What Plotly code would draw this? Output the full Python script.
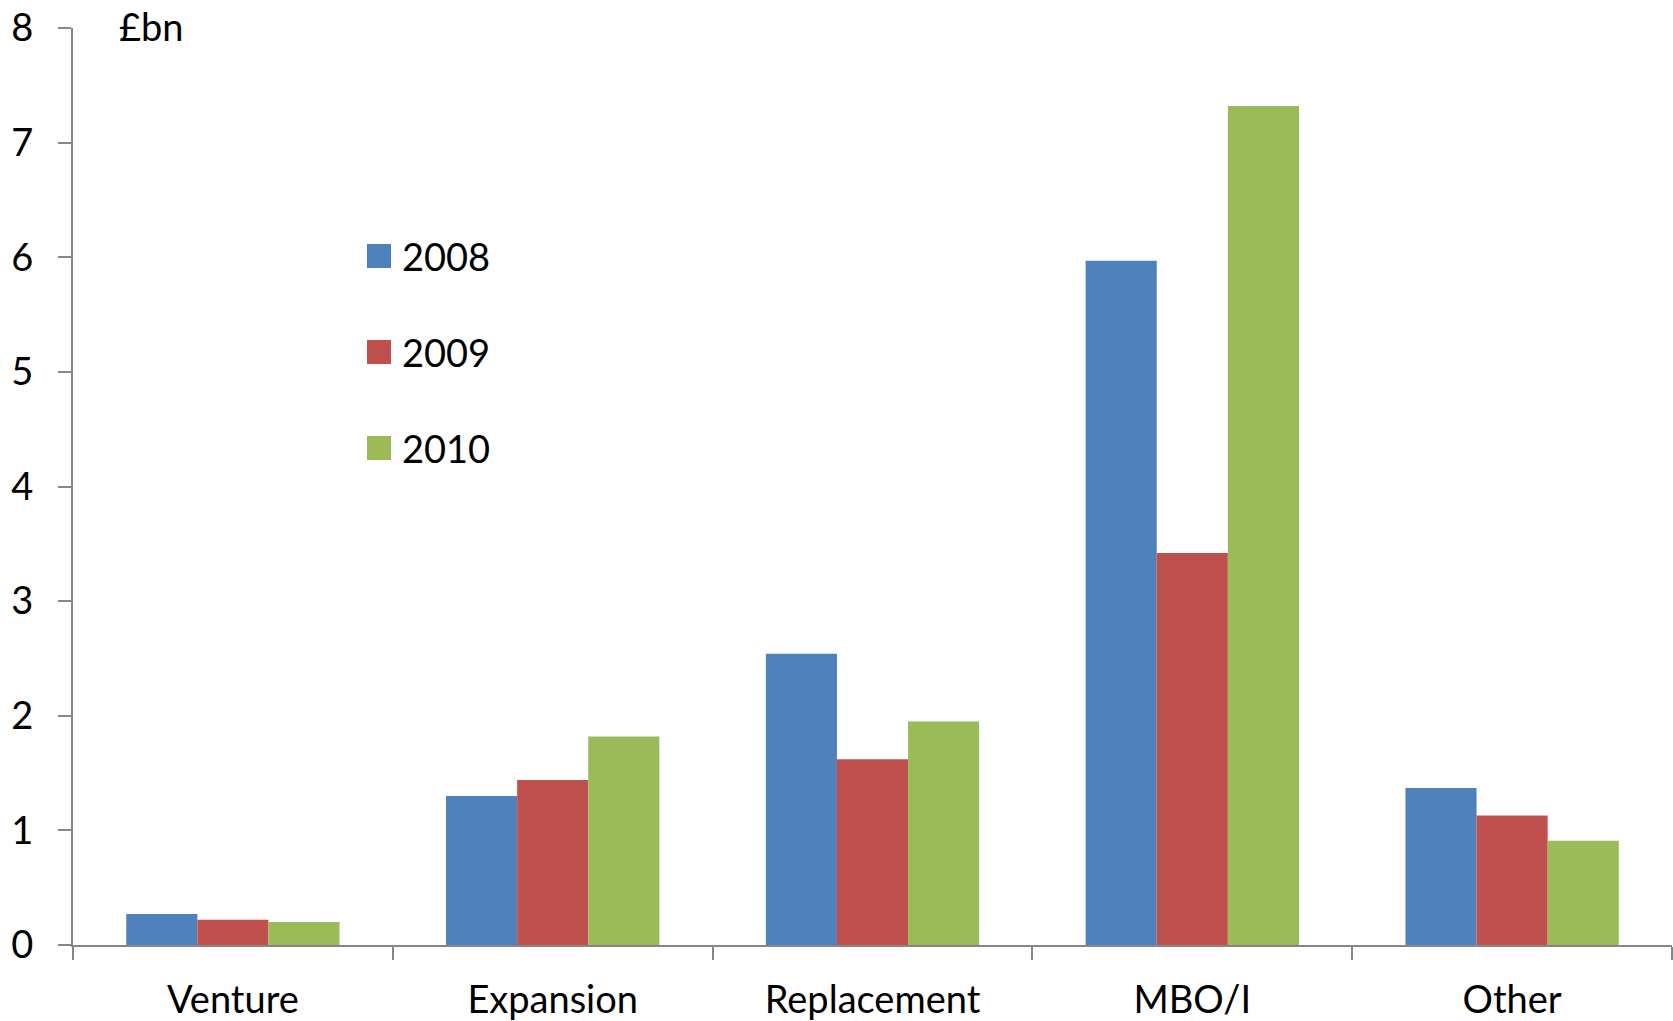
import plotly.graph_objects as go

# Private equity investment by stage, £bn
categories = ["Venture", "Expansion", "Replacement", "MBO/I", "Other"]
years = ["2008", "2009", "2010"]
values_2008 = [0.27, 1.30, 2.54, 5.97, 1.37]
values_2009 = [0.22, 1.44, 1.62, 3.42, 1.13]
values_2010 = [0.20, 1.82, 1.95, 7.32, 0.91]
y_ticks = [0, 1, 2, 3, 4, 5, 6, 7, 8]

colors = ["#4F81BD", "#C0504D", "#9BBB59"]
series = [values_2008, values_2009, values_2010]

W, H = 1673, 1021
M_L, M_R, M_T, M_B = 73, 1, 28, 76
FONT = "Lato, Carlito, Calibri, sans-serif"
FS = 38

fig = go.Figure()
for year, vals, col in zip(years, series, colors):
    fig.add_trace(go.Bar(
        x=categories, y=vals, name=year,
        marker=dict(color=col, line=dict(width=0)),
        showlegend=False,
    ))


def px_x(px):
    return (px - M_L) / (W - M_L - M_R)


def px_y(py):
    return (H - M_B - py) / (H - M_T - M_B)


# Legend drawn as coloured squares with labels
shapes = []
annotations = []
rows = [256, 352, 448]
for year, col, cy in zip(years, colors, rows):
    shapes.append(dict(
        type="rect", xref="paper", yref="paper",
        x0=px_x(367), x1=px_x(391), y0=px_y(cy + 12), y1=px_y(cy - 12),
        fillcolor=col, line=dict(width=0),
    ))
    annotations.append(dict(
        text=year, xref="paper", yref="paper", x=px_x(400), y=px_y(cy),
        xanchor="left", yanchor="middle", showarrow=False,
        font=dict(family=FONT, size=FS, color="#000000"),
    ))

annotations.append(dict(
    text="£bn", xref="paper", yref="paper", x=px_x(117), y=px_y(26),
    xanchor="left", yanchor="middle", showarrow=False,
    font=dict(family=FONT, size=FS, color="#000000"),
))

fig.update_layout(
    width=W, height=H,
    margin=dict(l=M_L, r=M_R, t=M_T, b=M_B),
    paper_bgcolor="white", plot_bgcolor="white",
    barmode="group", bargap=0.333, bargroupgap=0,
    font=dict(family=FONT, size=FS, color="#000000"),
    shapes=shapes, annotations=annotations,
    showlegend=False,
)
fig.update_xaxes(
    automargin=False,
    showline=True, linecolor="#868686", linewidth=2,
    ticks="outside", ticklen=13, tickwidth=2, tickcolor="#868686",
    tickson="boundaries", showgrid=False, zeroline=False,
    ticklabelstandoff=20,
    tickfont=dict(family=FONT, size=FS, color="#000000"),
)
fig.update_yaxes(
    automargin=False,
    range=[0, 8], tickvals=y_ticks,
    showline=True, linecolor="#868686", linewidth=2,
    ticks="outside", ticklen=13, tickwidth=2, tickcolor="#868686",
    showgrid=False, zeroline=False,
    ticklabelstandoff=17,
    tickfont=dict(family=FONT, size=FS, color="#000000"),
)

fig.write_html("out.html")
